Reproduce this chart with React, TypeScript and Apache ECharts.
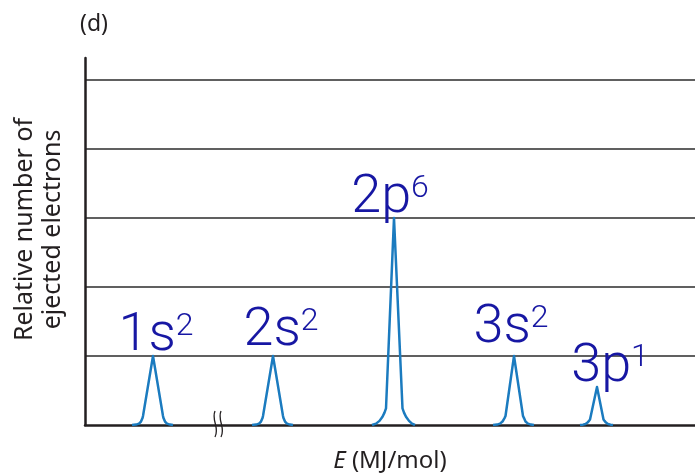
import React, { useEffect, useRef } from "react";
import * as echarts from "echarts";

// Peak outlines: [energy (arbitrary units along the broken axis), relative number]
const peak1s = [[4.7, 0], [5.1, 0.006], [5.4, 0.02], [5.6, 0.05], [5.75, 0.1], [5.8, 0.13], [6.8, 1], [7.8, 0.13], [7.85, 0.1], [8.0, 0.05], [8.2, 0.02], [8.5, 0.006], [8.8, 0]];
const peak2s = [[16.7, 0], [17.1, 0.006], [17.4, 0.02], [17.6, 0.05], [17.75, 0.1], [17.8, 0.13], [18.8, 1], [19.8, 0.13], [19.85, 0.1], [20.0, 0.05], [20.2, 0.02], [20.5, 0.006], [20.8, 0]];
const peak2p = [[28.7, 0], [29.1, 0.02], [29.45, 0.06], [29.75, 0.12], [29.95, 0.18], [30.1, 0.24], [30.9, 3], [31.75, 0.24], [31.9, 0.18], [32.1, 0.12], [32.4, 0.06], [32.7, 0.02], [33.0, 0]];
const peak3s = [[40.8, 0], [41.2, 0.006], [41.5, 0.02], [41.75, 0.05], [41.95, 0.1], [42.05, 0.13], [42.9, 1], [43.8, 0.13], [43.9, 0.1], [44.05, 0.05], [44.3, 0.02], [44.6, 0.006], [44.9, 0]];
const peak3p = [[49.5, 0], [49.8, 0.005], [50.05, 0.015], [50.25, 0.035], [50.4, 0.06], [50.5, 0.08], [51.2, 0.55], [51.85, 0.08], [51.95, 0.06], [52.1, 0.035], [52.3, 0.015], [52.55, 0.005], [52.8, 0]];

const peaks = [peak1s, peak2s, peak2p, peak3s, peak3p];
const orbitals = ["1s", "2s", "2p", "3s", "3p"];
const electrons = ["2", "2", "6", "2", "1"];
const labelOffsets = [[3, 2], [8, -3], [-4, 2], [-3, -6], [13, 2]];
const topIndex = 6;

const X_MIN = 0;
const X_MAX = 61;
const Y_MAX = 5.32;

const LINE_BLUE = "#1b7bbf";
const INK_BLUE = "#1717a3";

export default function App() {
  const ref = useRef<HTMLDivElement>(null);

  useEffect(() => {
    if (!ref.current) return;
    const chart = echarts.init(ref.current, null, { renderer: "svg" });

    const series = peaks.map((pts, i) => ({
      type: "line",
      name: orbitals[i] + electrons[i],
      showSymbol: true,
      showAllSymbol: true,
      symbol: "circle",
      symbolSize: 0,
      smooth: false,
      lineStyle: { color: LINE_BLUE, width: 2.5, join: "round" },
      itemStyle: { color: LINE_BLUE },
      data: pts.map((p, j) =>
        j === topIndex
          ? {
              value: p,
              label: {
                show: true,
                position: "top",
                distance: 0,
                offset: labelOffsets[i],
                formatter: "{m|" + orbitals[i] + "}{s|" + electrons[i] + "}",
                rich: {
                  m: {
                    fontFamily: "Roboto",
                    fontWeight: 300,
                    fontSize: 54,
                    color: INK_BLUE,
                    lineHeight: 50,
                    verticalAlign: "bottom",
                  },
                  s: {
                    fontFamily: "Roboto",
                    fontWeight: 300,
                    fontSize: 32,
                    color: INK_BLUE,
                    lineHeight: 50,
                    verticalAlign: "top",
                  },
                },
              },
            }
          : { value: p }
      ),
    }));

    chart.setOption({
      animation: false,
      grid: { left: 85, right: 0, top: 58, bottom: 48, containLabel: false, outerBoundsMode: "none" },
      xAxis: {
        type: "value",
        min: X_MIN,
        max: X_MAX,
        name: "{i|E} (MJ/mol)",
        nameLocation: "middle",
        nameGap: 21,
        nameTextStyle: {
          fontFamily: "Noto Sans",
          fontSize: 24,
          lineHeight: 24,
          color: "#231f20",
          rich: {
            i: { fontFamily: "Noto Sans", fontSize: 24, lineHeight: 24, fontStyle: "italic", color: "#231f20" },
          },
        },
        axisLine: { show: true, lineStyle: { color: "#231f20", width: 2.5 } },
        axisTick: { show: false },
        axisLabel: { show: false },
        splitLine: { show: false },
      },
      yAxis: {
        type: "value",
        min: 0,
        max: Y_MAX,
        interval: 1,
        name: "Relative number of\nejected electrons",
        nameLocation: "middle",
        nameGap: 21,
        nameRotate: 90,
        nameTextStyle: {
          fontFamily: "Noto Sans",
          fontSize: 25,
          lineHeight: 28,
          color: "#231f20",
          padding: [0, 0, 0, 24],
        },
        axisLine: { show: true, lineStyle: { color: "#231f20", width: 2.5 } },
        axisTick: { show: false },
        axisLabel: { show: false },
        splitLine: {
          show: true,
          showMinLine: false,
          showMaxLine: false,
          lineStyle: { color: "#2b2b2b", width: 1.5 },
        },
      },
      graphic: [
        {
          type: "text",
          left: 80,
          top: 10,
          style: { text: "(d)", fontFamily: "Noto Sans", fontSize: 23, fill: "#231f20" },
        },
        {
          type: "bezierCurve",
          shape: { x1: 215, y1: 411, cpx1: 211, cpy1: 420, cpx2: 220, cpy2: 428, x2: 215, y2: 437 },
          style: { stroke: "#231f20", lineWidth: 1.3, fill: "none" },
        },
        {
          type: "bezierCurve",
          shape: { x1: 221, y1: 411, cpx1: 217, cpy1: 420, cpx2: 226, cpy2: 428, x2: 221, y2: 437 },
          style: { stroke: "#231f20", lineWidth: 1.3, fill: "none" },
        },
      ],
      series,
    });

    return () => chart.dispose();
  }, []);

  return <div ref={ref} style={{ position: "fixed", left: 0, top: 0, width: 695, height: 473 }} />;
}
